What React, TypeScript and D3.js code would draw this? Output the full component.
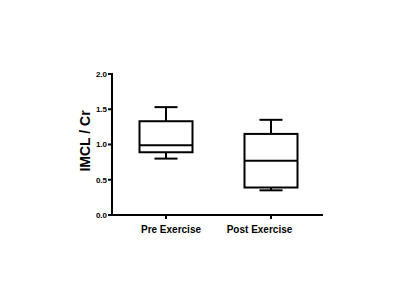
import React from "react";
import * as d3 from "d3";

const categories = ["Pre Exercise", "Post Exercise"];
const whiskerLow = [0.8, 0.35];
const q1 = [0.89, 0.39];
const median = [0.99, 0.77];
const q3 = [1.33, 1.15];
const whiskerHigh = [1.53, 1.35];
const yTicks = [0, 0.5, 1.0, 1.5, 2.0];

export default function App() {
  const left = 112, right = 323, top = 74, bottom = 215;
  const y = d3.scaleLinear().domain([0, 2]).range([bottom, top]);
  const x = d3.scalePoint<string>().domain(categories).range([166, 271]);
  const boxW = 53;
  const capW = 23;
  const labelShift = [5, -11.5];
  const font = "Arial, 'Liberation Sans', sans-serif";
  return (
    <svg width={400} height={300} style={{ position: "absolute", left: 0, top: 0 }}>
      <rect width={400} height={300} fill="#fff" />
      <g stroke="#000" strokeWidth={2} fill="none">
        <line x1={left} x2={left} y1={top - 1} y2={bottom + 1} />
        <line x1={left - 1} x2={right} y1={bottom} y2={bottom} />
        {yTicks.map((t) => (
          <line key={t} x1={left - 4} x2={left} y1={y(t)} y2={y(t)} />
        ))}
        {categories.map((c) => (
          <line key={c} x1={x(c)} x2={x(c)} y1={bottom} y2={bottom + 4} />
        ))}
        {categories.map((c, i) => {
          const cx = x(c)!;
          return (
            <g key={c}>
              <line x1={cx} x2={cx} y1={y(q3[i])} y2={y(whiskerHigh[i])} />
              <line x1={cx} x2={cx} y1={y(q1[i])} y2={y(whiskerLow[i])} />
              <line x1={cx - capW / 2} x2={cx + capW / 2} y1={y(whiskerHigh[i])} y2={y(whiskerHigh[i])} />
              <line x1={cx - capW / 2} x2={cx + capW / 2} y1={y(whiskerLow[i])} y2={y(whiskerLow[i])} />
              <rect x={cx - boxW / 2} y={y(q3[i])} width={boxW} height={y(q1[i]) - y(q3[i])} />
              <line x1={cx - boxW / 2} x2={cx + boxW / 2} y1={y(median[i])} y2={y(median[i])} />
            </g>
          );
        })}
      </g>
      <g fontFamily={font} fontWeight="bold" fill="#000">
        {yTicks.map((t) => (
          <text key={t} x={left - 5} y={y(t)} dy="0.35em" textAnchor="end" fontSize={8}>
            {t.toFixed(1)}
          </text>
        ))}
        {categories.map((c, i) => (
          <text key={c} x={x(c)! + labelShift[i]} y={233} textAnchor="middle" fontSize={10}>
            {c}
          </text>
        ))}
        <text
          transform={`translate(90,141) rotate(-90)`}
          textAnchor="middle"
          fontSize={14}
        >
          IMCL / Cr
        </text>
      </g>
    </svg>
  );
}
